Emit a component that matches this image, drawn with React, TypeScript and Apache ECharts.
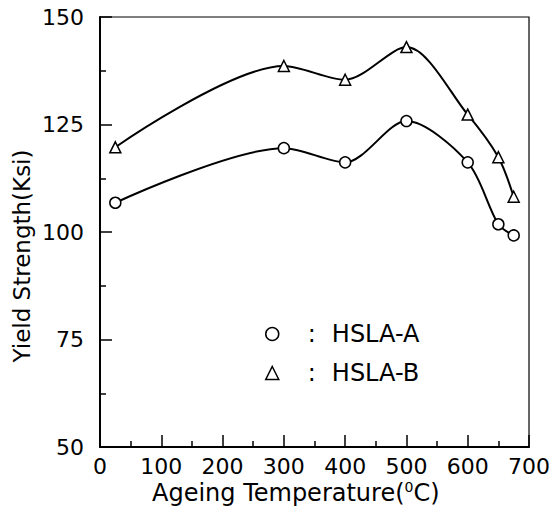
import React, { useEffect, useRef } from "react";
import * as echarts from "echarts";

const temps = [25, 300, 400, 500, 600, 650, 675];
const hslaA = [106.8, 119.5, 116.2, 125.8, 116.2, 101.8, 99.2];
const hslaB = [119.7, 138.6, 135.4, 143.0, 127.3, 117.4, 108.2];
const seriesNames = ["HSLA-A", "HSLA-B"];
const FONT = "DejaVu Sans";

export default function App() {
  const ref = useRef<HTMLDivElement>(null);
  useEffect(() => {
    if (!ref.current) return;
    const chart = echarts.init(ref.current, null, { renderer: "svg" });
    const pts = (ys: number[]) => temps.map((t, i) => [t, ys[i]]);
    const axisCommon = {
      axisLine: { show: true, lineStyle: { color: "#000", width: 2 } },
      axisTick: { show: true, inside: true, length: 12, lineStyle: { color: "#000", width: 1.5 } },
      minorTick: { show: true, splitNumber: 2, length: 6, lineStyle: { color: "#000", width: 1.5 } },
      splitLine: { show: false },
      axisLabel: { color: "#000", fontFamily: FONT, fontSize: 22, lineHeight: 22 },
    };
    chart.setOption({
      animation: false,
      backgroundColor: "#fff",
      grid: {
        left: 100,
        right: 23,
        top: 17,
        bottom: 60,
        show: true,
        borderColor: "#000",
        borderWidth: 1.2,
      },
      xAxis: {
        type: "value",
        min: 0,
        max: 700,
        interval: 100,
        ...axisCommon,
        axisLabel: { ...axisCommon.axisLabel, margin: 8 },
      },
      yAxis: {
        type: "value",
        min: 50,
        max: 150,
        interval: 25,
        ...axisCommon,
        axisLabel: { ...axisCommon.axisLabel, margin: 16 },
      },
      legend: {
        orient: "vertical",
        left: 260,
        top: 317,
        itemWidth: 13,
        itemHeight: 13,
        itemGap: 15,
        data: [
          { name: seriesNames[0], icon: "circle" },
          { name: seriesNames[1], icon: "triangle" },
        ],
        itemStyle: { color: "#fff", borderColor: "#000", borderWidth: 1.5 },
        formatter: (name: string) => `{c|:}{n|${name}}`,
        textStyle: {
          color: "#000",
          fontFamily: FONT,
          fontSize: 24,
          rich: {
            c: { fontFamily: FONT, fontSize: 24, padding: [0, 16, 0, 24] },
            n: { fontFamily: FONT, fontSize: 24 },
          },
        },
      },
      graphic: [
        {
          type: "text",
          left: 152,
          top: 480,
          style: {
            text: "{a|Ageing Temperature(}{s|0}{a|C)}",
            rich: {
              a: { fontFamily: FONT, fontSize: 24, lineHeight: 26, fill: "#000" },
              s: { fontFamily: FONT, fontSize: 14, lineHeight: 26, fill: "#000", verticalAlign: "top", padding: [0, 0, 10, 0] },
            },
          },
        },
        {
          type: "text",
          x: 22,
          y: 256,
          rotation: Math.PI / 2,
          style: {
            text: "Yield Strength(Ksi)",
            fontFamily: FONT,
            fontSize: 23,
            fill: "#000",
            align: "center",
            verticalAlign: "middle",
          },
        },
      ],
      series: [
        {
          name: seriesNames[0],
          type: "line",
          data: pts(hslaA),
          smooth: 0.3,
          symbol: "circle",
          symbolSize: 11,
          showAllSymbol: true,
          lineStyle: { color: "#000", width: 2 },
          itemStyle: { color: "#fff", borderColor: "#000", borderWidth: 1.5 },
          z: 3,
        },
        {
          name: seriesNames[1],
          type: "line",
          data: pts(hslaB),
          smooth: 0.3,
          symbol: "triangle",
          symbolSize: 11,
          showAllSymbol: true,
          lineStyle: { color: "#000", width: 2 },
          itemStyle: { color: "#fff", borderColor: "#000", borderWidth: 1.5 },
          z: 3,
        },
      ],
    });
    return () => chart.dispose();
  }, []);
  return (
    <div
      ref={ref}
      style={{ position: "fixed", left: 0, top: 0, width: 553, height: 507 }}
    />
  );
}
